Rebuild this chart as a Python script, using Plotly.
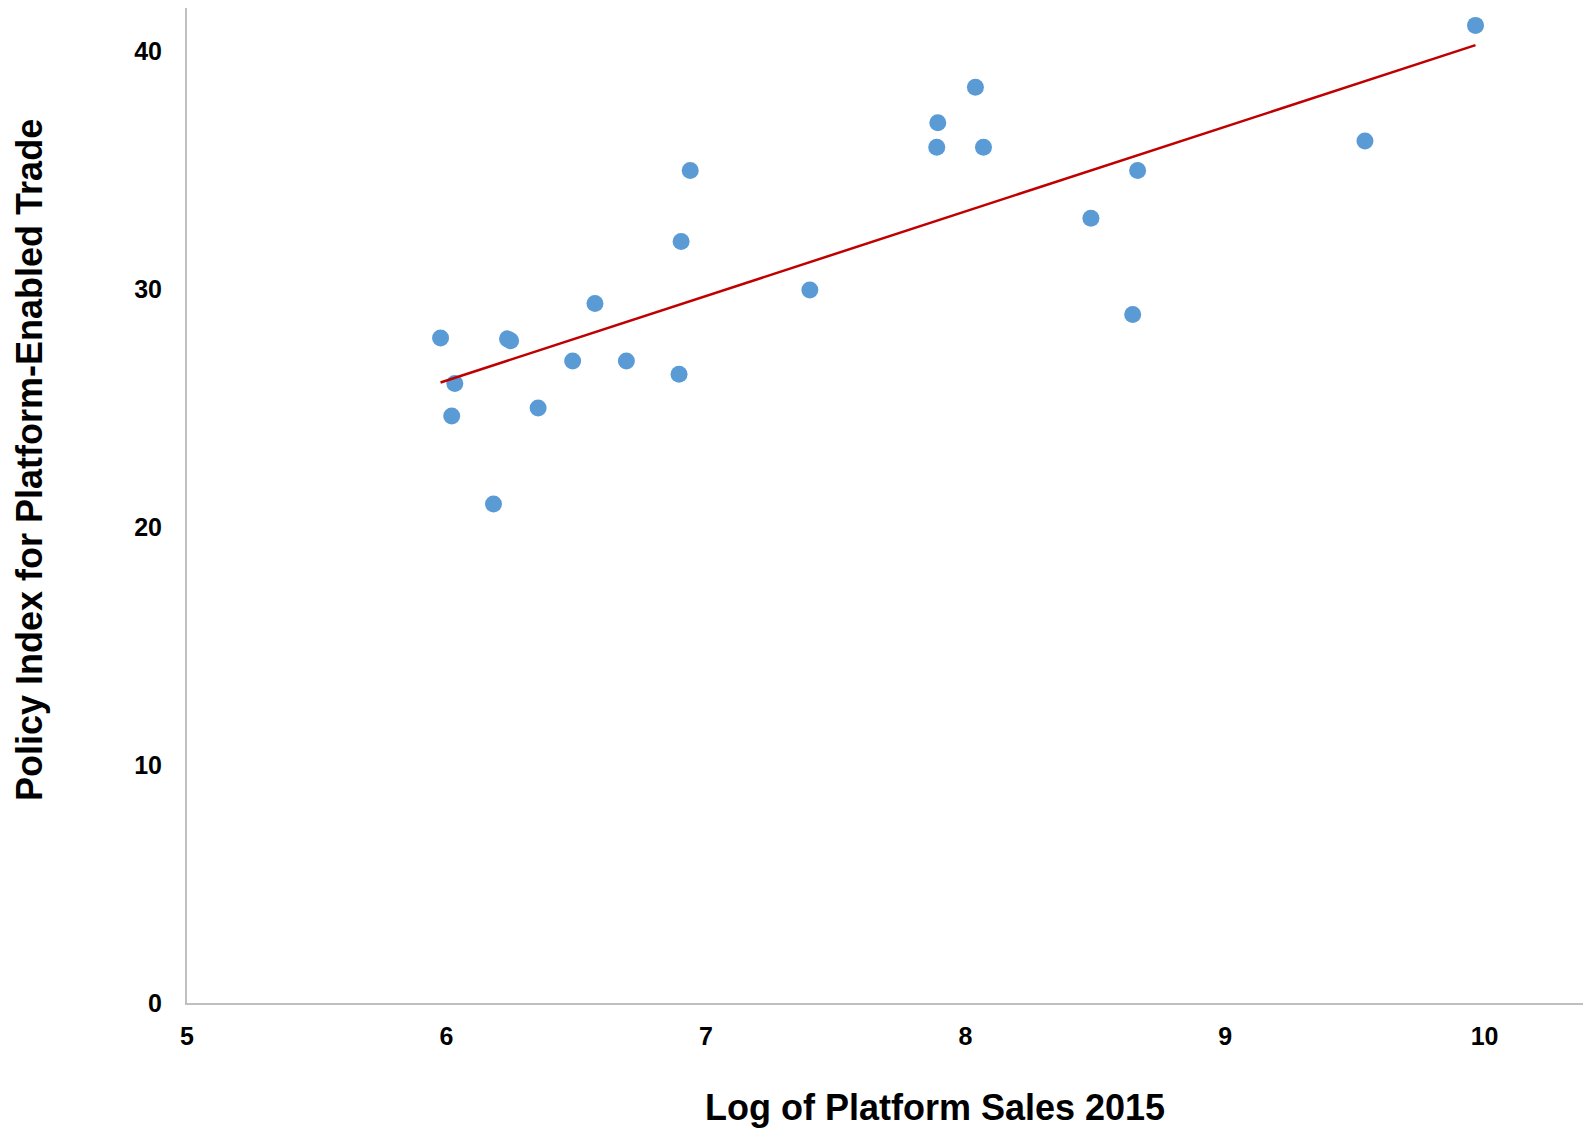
import numpy as np
import plotly.graph_objects as go

# Data
log_sales = [5.977, 6.032, 6.020, 6.181, 6.235, 6.247, 6.353, 6.486, 6.572, 6.693,
             6.896, 6.904, 6.939, 7.400, 7.893, 7.889, 8.038, 8.069, 8.483, 8.663,
             8.644, 9.539, 9.965]
policy_index = [27.94, 26.03, 24.66, 20.96, 27.90, 27.82, 25.00, 26.97, 29.39, 26.97,
                26.41, 31.99, 34.97, 29.95, 36.98, 35.95, 38.47, 35.95, 32.97, 34.97,
                28.92, 36.21, 41.07]
x_ticks = [5, 6, 7, 8, 9, 10]
y_ticks = [0, 10, 20, 30, 40]

x_title = "Log of Platform Sales 2015"
y_title = "Policy Index for Platform-Enabled Trade"

# Linear trend line fitted to the data
xs = np.array(log_sales)
ys = np.array(policy_index)
slope, intercept = np.polyfit(xs, ys, 1)
trend_x = np.array([xs.min(), xs.max()])
trend_y = slope * trend_x + intercept

FONT = "Liberation Sans, Arial, sans-serif"

W, H = 1583, 1120          # page has an 8px body margin
L, B = 179, 125
PW, PH = W - L, H - B

fig = go.Figure()
fig.add_trace(go.Scatter(
    x=log_sales, y=policy_index, mode="markers",
    marker=dict(color="#5B9BD5", size=17, line=dict(width=0)),
    showlegend=False,
))
fig.add_trace(go.Scatter(
    x=trend_x, y=trend_y, mode="lines",
    line=dict(color="#C00000", width=2.5),
    showlegend=False,
))

fig.update_layout(
    width=W, height=H,
    margin=dict(l=L, r=0, t=0, b=B),
    paper_bgcolor="white", plot_bgcolor="white",
    font=dict(family=FONT, color="black"),
    xaxis=dict(
        range=[5, 10.41], tickvals=x_ticks, showgrid=False, zeroline=False,
        showline=True, linecolor="#BFBFBF", linewidth=2,
        tickfont=dict(family=FONT, size=25, color="black", weight="bold"),
        ticks="", ticklabelstandoff=10,
    ),
    yaxis=dict(
        range=[0, 41.8], tickvals=y_ticks, showgrid=False, zeroline=False,
        showline=True, linecolor="#BFBFBF", linewidth=2,
        tickfont=dict(family=FONT, size=25, color="black", weight="bold"),
        ticks="", ticklabelstandoff=18,
    ),
    annotations=[
        dict(text=x_title, xref="paper", yref="paper",
             x=(927 - L) / PW, y=-(1099 - PH) / PH,
             xanchor="center", yanchor="middle", showarrow=False,
             font=dict(family=FONT, size=36, color="black", weight="bold")),
        dict(text=y_title, xref="paper", yref="paper",
             x=-(L - 21) / PW, y=(PH - 452) / PH,
             xanchor="center", yanchor="middle", showarrow=False, textangle=-90,
             font=dict(family=FONT, size=36, color="black", weight="bold")),
    ],
)

fig.write_html("out.html")
